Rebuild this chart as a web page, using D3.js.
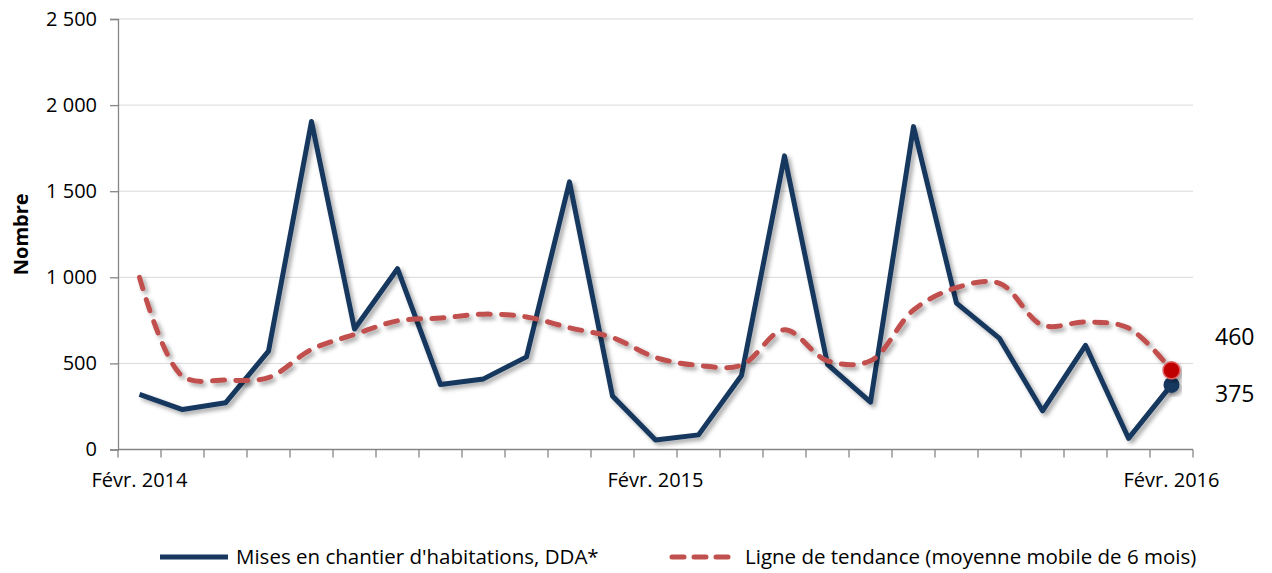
<!DOCTYPE html>
<html><head><meta charset="utf-8">
<script src="https://cdn.jsdelivr.net/npm/d3@7"></script>
<style>
body{margin:0;background:#fff;}
svg{font-family:"Open Sans",sans-serif;}
</style></head><body>
<svg id="c" width="1272" height="573"></svg>
<script>
const months = ["Févr. 2014","Mars 2014","Avr. 2014","Mai 2014","Juin 2014","Juil. 2014","Août 2014","Sept. 2014","Oct. 2014","Nov. 2014","Déc. 2014","Janv. 2015",
"Févr. 2015","Mars 2015","Avr. 2015","Mai 2015","Juin 2015","Juil. 2015","Août 2015","Sept. 2015","Oct. 2015","Nov. 2015","Déc. 2015","Janv. 2016","Févr. 2016"];
const mises = [320,232,271,571,1905,700,1050,377,410,538,1554,310,55,85,430,1705,495,275,1875,850,645,225,605,65,375];
const tendance = [1000,426,403,418,581,668,747,763,786,770,707,650,535,488,490,695,515,515,810,940,965,722,740,705,460];
const yTicks = [0,500,1000,1500,2000,2500];
const xLabels = ["Févr. 2014","Févr. 2015","Févr. 2016"];
const legendNames = ["Mises en chantier d'habitations, DDA*","Ligne de tendance (moyenne mobile de 6 mois)"];
const yTitle = "Nombre";

const svg = d3.select("#c");
const L=118,R=1193,T=19,B=449.5;
const x = d3.scaleBand().domain(months).range([L,R]);
const y = d3.scaleLinear().domain([0,2500]).range([B,T]);
const cx = d => x(d)+x.bandwidth()/2;

const defs = svg.append("defs");
const f = defs.append("filter").attr("id","sh").attr("x","-10%").attr("y","-10%").attr("width","120%").attr("height","130%");
f.append("feDropShadow").attr("dx",3).attr("dy",3).attr("stdDeviation",2).attr("flood-color","#000").attr("flood-opacity",0.35);

// gridlines
svg.append("g").selectAll("line").data(yTicks.filter(v=>v>0)).join("line")
  .attr("x1",L).attr("x2",R).attr("y1",d=>y(d)).attr("y2",d=>y(d))
  .attr("stroke","#D9D9D9").attr("stroke-width",1);

// y axis
const ya = svg.append("g").attr("transform",`translate(${L},0)`)
  .call(d3.axisLeft(y).tickValues(yTicks).tickSize(8).tickPadding(13).tickFormat(v=>d3.format(",")(v).replace(/,/g," ")));
ya.select(".domain").attr("stroke","#868686").attr("stroke-width",1.3);
ya.selectAll(".tick line").attr("stroke","#868686").attr("stroke-width",1.3);
ya.selectAll("text").attr("font-size",20).attr("fill","#000").attr("font-family","'Open Sans',sans-serif");

// x axis
const xa = svg.append("g").attr("transform",`translate(0,${B})`);
xa.append("line").attr("x1",L).attr("x2",R).attr("stroke","#868686").attr("stroke-width",1.3);
const bounds = months.map(m=>x(m)).concat([R]);
xa.selectAll("line.t").data(bounds).join("line").attr("class","t")
  .attr("x1",d=>d).attr("x2",d=>d).attr("y1",0).attr("y2",8).attr("stroke","#868686").attr("stroke-width",1.3);
xa.selectAll("text").data(xLabels).join("text")
  .attr("x",d=>cx(d)).attr("y",37).attr("text-anchor","middle").attr("font-size",20).text(d=>d);

// y title
svg.append("text").attr("transform",`translate(28,${(T+B)/2}) rotate(-90)`)
  .attr("text-anchor","middle").attr("font-size",20).attr("font-weight","bold").text(yTitle);

// lines
const line1 = d3.line().x((d,i)=>cx(months[i])).y(d=>y(d));
const line2 = d3.line().x((d,i)=>cx(months[i])).y(d=>y(d)).curve(d3.curveCatmullRom.alpha(0.5));
svg.append("path").datum(mises).attr("d",line1).attr("fill","none")
  .attr("stroke","#17375E").attr("stroke-width",5).attr("stroke-linejoin","round").attr("filter","url(#sh)");
svg.append("path").datum(tendance).attr("d",line2).attr("fill","none")
  .attr("stroke","#C0504D").attr("stroke-width",5).attr("stroke-dasharray","12,11.3").attr("stroke-linecap","round").attr("filter","url(#sh)");

// end markers
const last = months.length-1;
svg.append("circle").attr("cx",cx(months[last])).attr("cy",y(mises[last])).attr("r",8)
  .attr("fill","#17375E").attr("filter","url(#sh)");
svg.append("circle").attr("cx",cx(months[last])).attr("cy",y(tendance[last])).attr("r",8.5)
  .attr("fill","#C00000").attr("stroke","#E06060").attr("stroke-width",1.5).attr("filter","url(#sh)");
svg.append("text").attr("x",1215).attr("y",y(tendance[last])-25).attr("font-size",23).text(tendance[last]);
svg.append("text").attr("x",1215).attr("y",y(mises[last])+17).attr("font-size",23).text(mises[last]);

// legend
const lg = svg.append("g");
lg.append("line").attr("x1",160).attr("x2",228).attr("y1",557).attr("y2",557)
  .attr("stroke","#17375E").attr("stroke-width",5);
lg.append("text").attr("x",236).attr("y",564).attr("font-size",20.5).text(legendNames[0]);
lg.append("line").attr("x1",672).attr("x2",732).attr("y1",557).attr("y2",557)
  .attr("stroke","#C0504D").attr("stroke-width",5).attr("stroke-dasharray","12,10").attr("stroke-linecap","round");
lg.append("text").attr("x",745).attr("y",564).attr("font-size",20.5).text(legendNames[1]);
</script></body></html>
